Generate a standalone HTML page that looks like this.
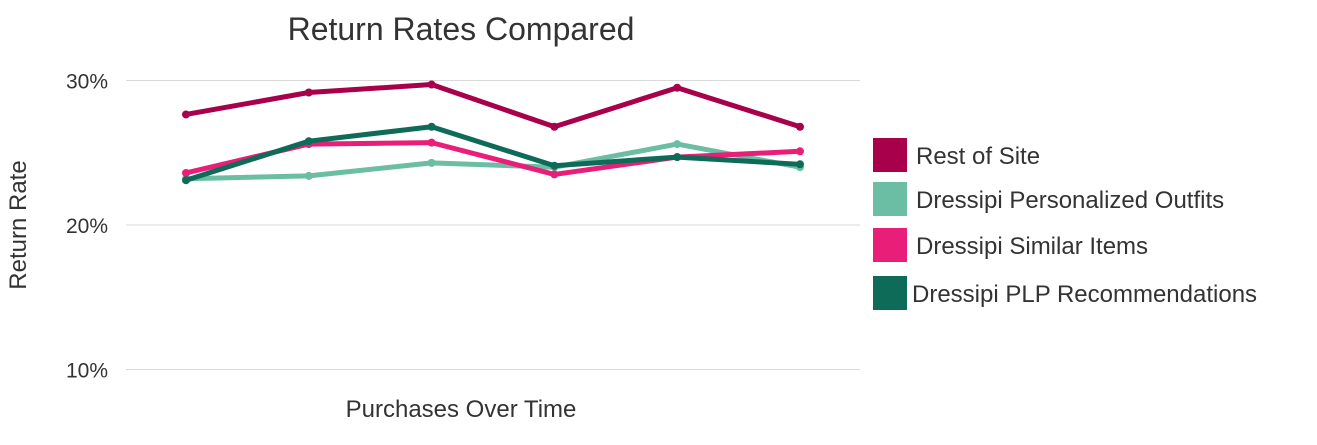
<!DOCTYPE html>
<html><head><meta charset="utf-8"><style>
body{margin:0;background:#fff;font-family:"Liberation Sans",sans-serif;}
svg text{font-family:"Liberation Sans",sans-serif;fill:#333;}
</style></head><body>
<svg width="1317" height="440" id="chart">
<text x="461" y="40" font-size="32" text-anchor="middle">Return Rates Compared</text>
<text x="461" y="417" font-size="24" text-anchor="middle">Purchases Over Time</text>
<text transform="translate(26,225) rotate(-90)" font-size="24" text-anchor="middle">Return Rate</text>
<g id="grid"></g><g id="series"></g><g id="legend"></g>
</svg>
<script>
const categories=[1,2,3,4,5,6];
const ticks=[10,20,30];
const seriesNames=["Rest of Site","Dressipi Personalized Outfits","Dressipi Similar Items","Dressipi PLP Recommendations"];
const restOfSite=[27.65,29.17,29.72,26.8,29.5,26.8];
const personalizedOutfits=[23.2,23.4,24.3,24.0,25.6,24.0];
const similarItems=[23.6,25.6,25.7,23.5,24.7,25.1];
const plpRecommendations=[23.1,25.8,26.8,24.1,24.7,24.2];
const colors=["#a8004a","#6bbda3","#e91e78","#0e6b58"];
const allSeries=[restOfSite,personalizedOutfits,similarItems,plpRecommendations];
const NS="http://www.w3.org/2000/svg";
const y=v=>225-(v-20)*14.45;
const x=i=>186+i*(800-186)/(categories.length-1);
const grid=document.getElementById('grid');
ticks.forEach(t=>{
const l=document.createElementNS(NS,'line');


l.setAttribute('x1',126);l.setAttribute('x2',860);l.setAttribute('y1',y(t));l.setAttribute('y2',y(t));l.setAttribute('stroke','#d9d9d9');
grid.appendChild(l);
const tx=document.createElementNS(NS,'text');


tx.setAttribute('x',108);tx.setAttribute('y',y(t)+8);tx.setAttribute('font-size','21');tx.setAttribute('text-anchor','end');
tx.textContent=t+'%';grid.appendChild(tx);
});
const sg=document.getElementById('series');
[1,2,3,0].forEach(s=>{
const d=allSeries[s];
const p=document.createElementNS(NS,'polyline');


p.setAttribute('points',d.map((v,i)=>x(i)+','+y(v)).join(' '));
p.setAttribute('fill','none');p.setAttribute('stroke',colors[s]);p.setAttribute('stroke-width','5');p.setAttribute('stroke-linejoin','round');
sg.appendChild(p);
d.forEach((v,i)=>{
const c=document.createElementNS(NS,'circle');


c.setAttribute('cx',x(i));c.setAttribute('cy',y(v));c.setAttribute('r','4');c.setAttribute('fill',colors[s]);
sg.appendChild(c);
});
});
const lg=document.getElementById('legend');
const ly=[155,199,245,293];
seriesNames.forEach((n,i)=>{
const r=document.createElementNS(NS,'rect');


r.setAttribute('x',873);r.setAttribute('y',ly[i]-17);r.setAttribute('width',34);r.setAttribute('height',34);r.setAttribute('fill',colors[i]);
lg.appendChild(r);
const t=document.createElementNS(NS,'text');


t.setAttribute('x',i==3?912:916);t.setAttribute('y',ly[i]+9);t.setAttribute('font-size','24');
t.textContent=n;lg.appendChild(t);
});
</script>
</body></html>
